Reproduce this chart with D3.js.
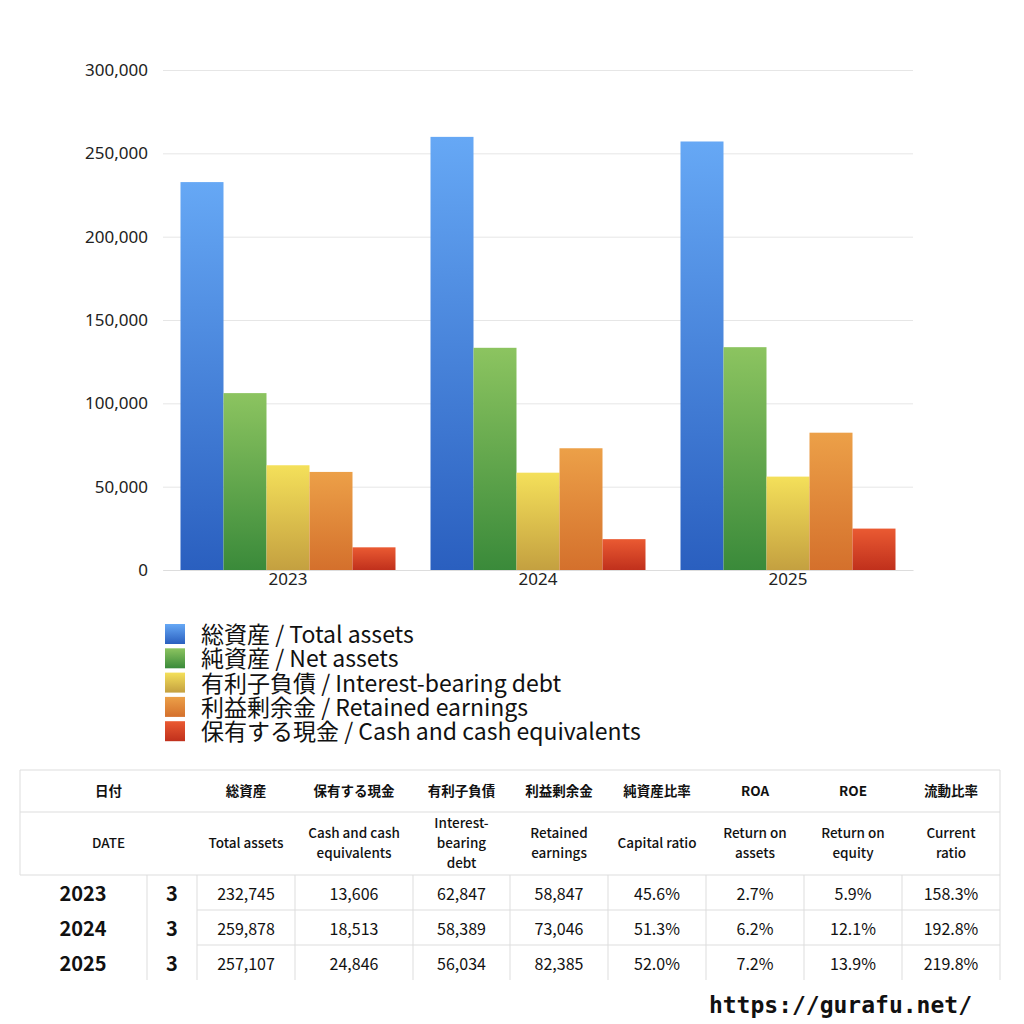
<!DOCTYPE html>
<html><head><meta charset="utf-8">
<script src="https://cdn.jsdelivr.net/npm/d3@7"></script>
<style>body{margin:0;background:#fff;font-family:"Noto Sans CJK JP","Noto Sans",sans-serif}</style>
</head><body><svg id="c" width="1024" height="1024"></svg>
<script>
const years = ["2023","2024","2025"];
const seriesNames = ["総資産 / Total assets","純資産 / Net assets","有利子負債 / Interest-bearing debt","利益剰余金 / Retained earnings","保有する現金 /  Cash and cash equivalents"];
const totalAssets = [232745,259878,257107];
const netAssets = [106132,133317,133696];
const debt = [62847,58389,56034];
const retained = [58847,73046,82385];
const cash = [13606,18513,24846];
const yTicks = [0,50000,100000,150000,200000,250000,300000];
const colorsTop = ["#66a8f5","#8cc460","#f4e05a","#eca048","#ea5a32"];
const colorsBot = ["#2a5fbf","#3a8a3a","#c4a040","#d4702c","#c0301c"];
const headJa = ["日付","総資産","保有する現金","有利子負債","利益剰余金","純資産比率","ROA","ROE","流動比率"];
const headEn = ["DATE","Total assets","Cash and cash\nequivalents","Interest-\nbearing\ndebt","Retained\nearnings","Capital ratio","Return on\nassets","Return on\nequity","Current\nratio"];
const months = ["3","3","3"];
const capRatio = ["45.6%","51.3%","52.0%"];
const roa = ["2.7%","6.2%","7.2%"];
const roe = ["5.9%","12.1%","13.9%"];
const curRatio = ["158.3%","192.8%","219.8%"];

const series=[totalAssets,netAssets,debt,retained,cash];
const svg=d3.select("#c");
const defs=svg.append("defs");
colorsTop.forEach((c,i)=>{const g=defs.append("linearGradient").attr("id","g"+i).attr("x1",0).attr("x2",0).attr("y1",0).attr("y2",1);
g.append("stop").attr("offset","0%").attr("stop-color",c);g.append("stop").attr("offset","100%").attr("stop-color",colorsBot[i]);});
const x0=d3.scaleBand().domain(years).range([163,913]).paddingInner(0.14).paddingOuter(0.07);
const x1=d3.scaleBand().domain(d3.range(5)).range([0,x0.bandwidth()]);
const y=d3.scaleLinear().domain([0,300000]).range([570,70]);
const ya=svg.append("g").attr("transform","translate(163,0)").call(d3.axisLeft(y).tickValues(yTicks).tickSize(-750).tickFormat(d3.format(",")));
ya.select(".domain").remove();
ya.selectAll("line").attr("stroke","#e6e6e6");
ya.selectAll("text").attr("x",-15).attr("font-size",17).attr("fill","#222").attr("font-family","Noto Sans");
years.forEach((yr,yi)=>{series.forEach((s,si)=>{
 svg.append("rect").attr("x",x0(yr)+x1(si)).attr("width",x1.bandwidth()).attr("y",y(s[yi])).attr("height",570-y(s[yi])).attr("fill",`url(#g${si})`);
});});
const xa=svg.append("g").attr("transform","translate(0,570)").call(d3.axisBottom(x0).tickSize(0));
xa.select(".domain").attr("stroke","#ddd");
xa.selectAll("text").attr("dy",12).attr("font-size",17).attr("fill","#222").attr("font-family","Noto Sans");
seriesNames.forEach((n,i)=>{const yy=635+i*24.3;
 svg.append("rect").attr("x",165).attr("y",yy-11).attr("width",20).attr("height",20).attr("fill",`url(#g${i})`);
 svg.append("text").attr("x",201).attr("y",yy+8).attr("font-size",23).attr("fill","#111").text(n);});
const cx=[20,147,197,295,413,510,608,706,804,902,1000];
const rows=[770,812,875,910,945,980];
const lc="#ddd";
const L=(a,b,c,d)=>svg.append("line").attr("x1",a).attr("y1",b).attr("x2",c).attr("y2",d).attr("stroke",lc);
rows.slice(0,3).forEach(r=>L(20,r,1000,r));
L(197,910,1000,910);L(197,945,1000,945);
L(20,770,20,875);L(1000,770,1000,980);
cx.slice(1,10).forEach(c=>L(c,875,c,980));
const T=(x,yy,t,o)=>svg.append("text").attr("x",x).attr("y",yy).attr("text-anchor",o.a||"middle").attr("font-size",o.s||13).attr("font-weight",o.w||"normal").attr("fill","#111").text(t);
const mid=i=>(cx[i]+cx[i+1])/2;
headJa.forEach((h,i)=>{const xx=i==0?(20+197)/2:mid(i+1);T(xx,796,h,{w:"bold",s:13.5});});
headEn.forEach((h,i)=>{const xx=i==0?(20+197)/2:mid(i+1);const ls=h.split("\n");const st=848-(ls.length-1)*10;
 ls.forEach((l,k)=>T(xx,st+k*20,l,{s:13.5,w:"500"}));});
const cols=[totalAssets.map(d3.format(",")),cash.map(d3.format(",")),debt.map(d3.format(",")),retained.map(d3.format(",")),capRatio,roa,roe,curRatio];
years.forEach((yr,r)=>{const yy=(rows[r+2]+rows[r+3])/2+7;
 T(83,yy+1,yr,{s:20,w:"bold"});T(172,yy+1,months[r],{s:20,w:"bold"});
 cols.forEach((c,i)=>T(mid(i+2),yy,c[r],{s:16}));});
T(972,1013,"https://gurafu.net/",{a:"end",s:23,w:"bold"}).attr("font-family","DejaVu Sans Mono");
</script></body></html>
